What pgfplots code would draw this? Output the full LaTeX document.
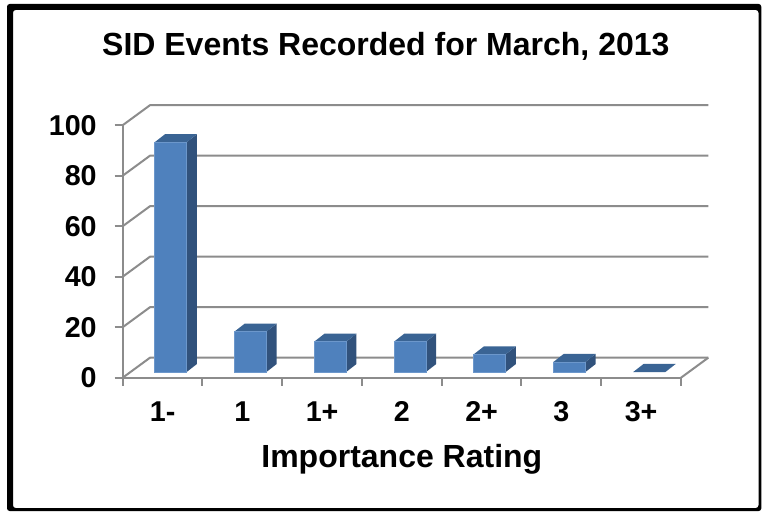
\documentclass[border=0pt]{standalone}
\usepackage{fontspec}
\setmainfont{Liberation Sans}
\usepackage{pgfplots}
\pgfplotsset{compat=1.18}
\definecolor{barfront}{HTML}{4F81BD}
\definecolor{baredge}{HTML}{6C97CB}
\definecolor{barside}{HTML}{31527C}
\definecolor{bartop}{HTML}{3A6494}
\definecolor{gridc}{HTML}{8C8C8C}
% oblique projection, in data units: wall depth (27.3 px, 20 px); bar depth (10.3 px, 8 px)
\newcommand{\wall}[1]{%
  \addplot[gridc,line width=1.5pt,forget plot,line join=miter] coordinates {(-0.5,#1) (-0.158,#1+7.92) (6.842,#1+7.92)};}
\newcommand{\threedbar}[2]{%
  \pgfmathsetmacro{\xl}{#1-0.099}\pgfmathsetmacro{\xr}{#1+0.302}%
  \pgfmathsetmacro{\xlb}{\xl+0.129}\pgfmathsetmacro{\xrb}{\xr+0.129}%
  \pgfmathsetmacro{\yb}{2.26}\pgfmathsetmacro{\yt}{2.26+#2}%
  \pgfmathsetmacro{\ybb}{\yb+3.17}\pgfmathsetmacro{\ytb}{\yt+3.17}%
  \edef\temp{%
  \noexpand\addplot[fill=barside,draw=none,forget plot] coordinates {(\xr,\yb) (\xrb,\ybb) (\xrb,\ytb) (\xr,\yt)} --cycle;
  \noexpand\addplot[fill=bartop,draw=none,forget plot] coordinates {(\xl,\yt) (\xlb,\ytb) (\xrb,\ytb) (\xr,\yt)} --cycle;
  }\temp
  \ifdim #2pt>0pt
  \edef\temp{%
  \noexpand\addplot[fill=barfront,draw=baredge,line width=0.4pt,forget plot] coordinates {(\xl,\yb) (\xr,\yb) (\xr,\yt) (\xl,\yt)} --cycle;
  }\temp
  \fi}
\begin{document}
\begin{tikzpicture}[x=0.75pt,y=0.75pt]
\path[fill=white] (0,0) rectangle (762,512);
\fill[black,even odd rule,rounded corners=2pt]
  (7,1) rectangle (761.3,508)
  (13,4) rectangle (758.5,502);
\begin{axis}[
  at={(92.025pt,100.725pt)},anchor=south west,
  scale only axis,width=418.725pt,height=189.375pt,
  xmin=-0.5,xmax=6.5,ymin=0,ymax=100,clip=false,
  axis x line=bottom,axis y line=left,
  axis line style={-,gridc,line width=1.5pt},
  ytick={0,20,40,60,80,100},
  xtick={0,1,2,3,4,5,6},
  xticklabels={1-,1,1+,2,2+,3,3+},
  minor xtick={-0.5,0.5,1.5,2.5,3.5,4.5,5.5,6.5},
  major tick length=6pt,
  minor tick length=6pt,
  x tick style={draw=none},
  minor x tick style={draw=gridc,line width=1.5pt},
  y tick style={draw=gridc,line width=1.5pt},
  tick align=outside,
  /pgf/number format/assume math mode=true,
  tick label style={font=\bfseries\fontsize{21.5}{24}\selectfont},
  xticklabel style={yshift=-27pt,anchor=base,text height=0pt},
  yticklabel style={xshift=-10pt},
  xlabel={Importance Rating},
  xlabel style={font=\bfseries\fontsize{24}{28}\selectfont,at={(rel axis cs:0.5,0)},anchor=base,yshift=-67pt},
  title={SID Events Recorded for March, 2013},
  title style={font=\bfseries\fontsize{24}{28}\selectfont,at={(rel axis cs:0.4713,1)},anchor=base,yshift=46pt},
]
\wall{0}\wall{20}\wall{40}\wall{60}\wall{80}\wall{100}
\addplot[gridc,line width=1.5pt,forget plot] coordinates {(6.5,0) (6.842,7.92)};
\threedbar{0}{91}
\threedbar{1}{16}
\threedbar{2}{12}
\threedbar{3}{12}
\threedbar{4}{7}
\threedbar{5}{4}
\threedbar{6}{0}
\end{axis}
\end{tikzpicture}
\end{document}
